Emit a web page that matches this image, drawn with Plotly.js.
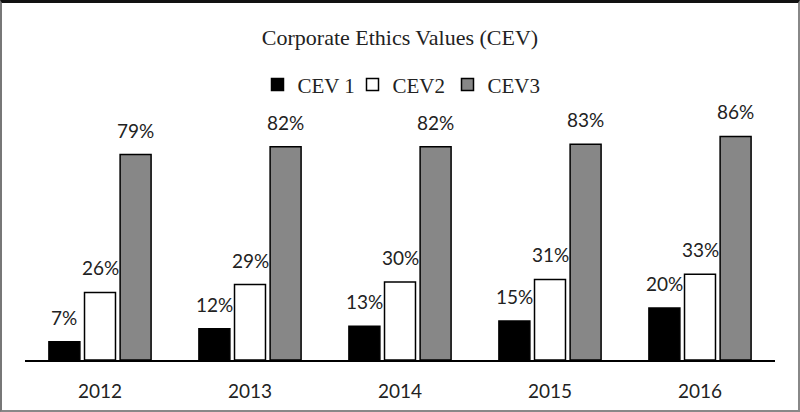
<!DOCTYPE html>
<html>
<head>
<meta charset="utf-8">
<script src="https://cdn.plot.ly/plotly-3.0.1.min.js"></script>
<style>
  html, body { margin: 0; padding: 0; background: #fff; }
  #wrap { position: relative; width: 800px; height: 412px; }
  #chart { width: 800px; height: 412px; }
  #frame {
    position: absolute; left: 0; top: 0; width: 800px; height: 412px;
    box-sizing: border-box; pointer-events: none;
    border-top: 3px solid #111; border-left: 2px solid #777;
    border-right: 2px solid #888; border-bottom: 2px solid #888;
  }
</style>
</head>
<body>
<div id="wrap">
  <div id="chart"></div>
  <div id="frame"></div>
</div>
<script>
const years = ["2012", "2013", "2014", "2015", "2016"];
const seriesNames = ["CEV 1", "CEV2", "CEV3"];
const cev1 = [7, 12, 13, 15, 20];
const cev2 = [26, 29, 30, 31, 33];
const cev3 = [79, 82, 82, 83, 86];
const colors = ["#000000", "#ffffff", "#878787"];

const allSeries = [cev1, cev2, cev3];
const xIdx = years.map((_, i) => i);
const bargap = 0.288;
const bargroupgap = 0.13;
const slot = (1 - bargap) / allSeries.length;

const traces = allSeries.map((vals, k) => ({
  type: "bar",
  name: seriesNames[k],
  x: xIdx,
  y: vals,
  marker: { color: colors[k], line: { color: "#000", width: 1.5 } },
  hoverinfo: "skip"
}));

const annotations = [];
allSeries.forEach((vals, k) => {
  vals.forEach((v, i) => {
    annotations.push({
      x: i + (k - (allSeries.length - 1) / 2) * slot,
      y: v,
      xref: "x", yref: "y",
      text: v + "%",
      showarrow: false,
      yanchor: "bottom",
      yshift: 11,
      font: { family: "Lato, 'Open Sans', sans-serif", size: 19, color: "#222" }
    });
  });
});

const serif = "'Liberation Serif', 'Times New Roman', serif";

const layout = {
  width: 800, height: 412,
  margin: { l: 25, r: 25, t: 100, b: 52 },
  paper_bgcolor: "#fff", plot_bgcolor: "#fff",
  barmode: "group",
  bargap: bargap,
  bargroupgap: bargroupgap,
  showlegend: true,
  title: {
    text: "Corporate Ethics Values (CEV)",
    font: { family: serif, size: 22, color: "#222" },
    x: 0.5, xanchor: "center",
    yref: "container", y: 1 - 37 / 412, yanchor: "middle"
  },
  legend: {
    orientation: "h",
    x: 0.5, xanchor: "center",
    y: 1.058, yanchor: "middle",
    font: { family: serif, size: 21, color: "#222" },
    itemwidth: 30,
    entrywidth: 50, entrywidthmode: "pixels",
    bgcolor: "rgba(0,0,0,0)"
  },
  xaxis: {
    range: [-0.5, 4.5],
    tickmode: "array",
    tickvals: xIdx,
    ticktext: years,
    showline: true, linecolor: "#000", linewidth: 1.5,
    showgrid: false, zeroline: false, ticks: "",
    ticklabelstandoff: 14,
    tickfont: { family: "Lato, 'Open Sans', sans-serif", size: 19, color: "#222" },
    fixedrange: true
  },
  yaxis: {
    range: [0, 100],
    showgrid: false, zeroline: false, showline: false,
    showticklabels: false, ticks: "",
    fixedrange: true
  },
  annotations: annotations
};

Plotly.newPlot("chart", traces, layout, { displayModeBar: false, staticPlot: true });
</script>
</body>
</html>
